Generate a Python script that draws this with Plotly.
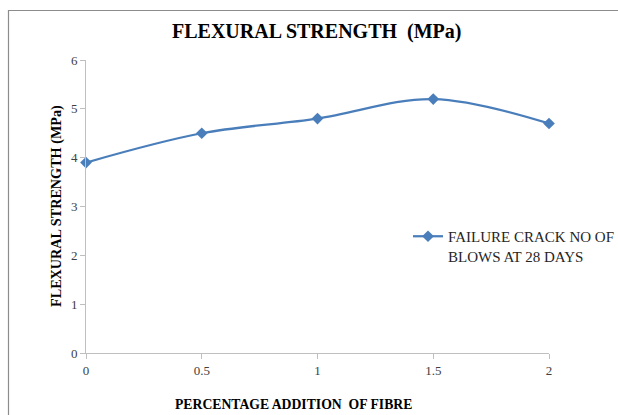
import plotly.graph_objects as go

fibre_pct = [0, 0.5, 1, 1.5, 2]
flexural_strength = [3.9, 4.5, 4.8, 5.2, 4.7]
x_ticks = [0, 0.5, 1, 1.5, 2]
x_tick_labels = ["0", "0.5", "1", "1.5", "2"]
y_ticks = [0, 1, 2, 3, 4, 5, 6]
series_name = "FAILURE CRACK NO OF<br>BLOWS AT 28 DAYS"

W, H = 618, 415
L, R, T, B = 86, 69, 60, 62
pw, ph = W - L - R, H - T - B

def px(x):
    return (x - L) / pw

def py(y):
    return (H - B - y) / ph

fig = go.Figure()
fig.add_trace(go.Scatter(
    x=fibre_pct, y=flexural_strength, name=series_name,
    mode="lines+markers",
    line=dict(color="#4A7EBB", width=2.25, shape="spline"),
    marker=dict(symbol="diamond", size=9, color="#4A7EBB"),
    cliponaxis=False,
))

serif = "Liberation Serif"
fig.update_layout(
    width=W, height=H,
    margin=dict(l=L, r=R, t=T, b=B, autoexpand=False),
    paper_bgcolor="white", plot_bgcolor="white",
    font=dict(family=serif, size=12, color="#404040"),
    showlegend=True,
    legend=dict(x=px(408), y=py(220), xanchor="left", yanchor="top",
                valign="top",
                font=dict(family=serif, size=15, color="#262626"),
                bgcolor="rgba(0,0,0,0)", itemwidth=30, tracegroupgap=0),
    xaxis=dict(range=[0, 2], tickvals=x_ticks, ticktext=x_tick_labels,
               showgrid=False, zeroline=False, showline=True,
               linecolor="#BFBFBF", linewidth=1, ticks="outside",
               ticklen=5, tickcolor="#BFBFBF",
               tickfont=dict(family=serif, size=13, color="#404040")),
    yaxis=dict(range=[0, 6], tickvals=y_ticks,
               showgrid=False, zeroline=False, showline=True,
               linecolor="#BFBFBF", linewidth=1, ticks="outside",
               ticklen=5, tickcolor="#BFBFBF",
               tickfont=dict(family=serif, size=13, color="#404040")),
    shapes=[dict(type="rect", xref="paper", yref="paper",
                 x0=px(8.5), x1=px(640), y0=py(440), y1=py(10.5),
                 line=dict(color="#8C8C8C", width=1.2))],
    annotations=[
        dict(text="<b>FLEXURAL STRENGTH  (MPa)</b>", xref="paper", yref="paper",
             x=px(316), y=py(32), xanchor="center", yanchor="middle",
             showarrow=False, font=dict(family=serif, size=20, color="#000000")),
        dict(text="<b>PERCENTAGE ADDITION  OF FIBRE</b>", xref="paper", yref="paper",
             x=px(293), y=py(404), xanchor="center", yanchor="middle",
             showarrow=False, font=dict(family=serif, size=13.7, color="#000000")),
        dict(text="<b>FLEXURAL STRENGTH (MPa)</b>", xref="paper", yref="paper",
             x=px(56), y=py(206), xanchor="center", yanchor="middle",
             textangle=-90,
             showarrow=False, font=dict(family=serif, size=14.2, color="#000000")),
    ],
)

fig.write_html("out.html")
